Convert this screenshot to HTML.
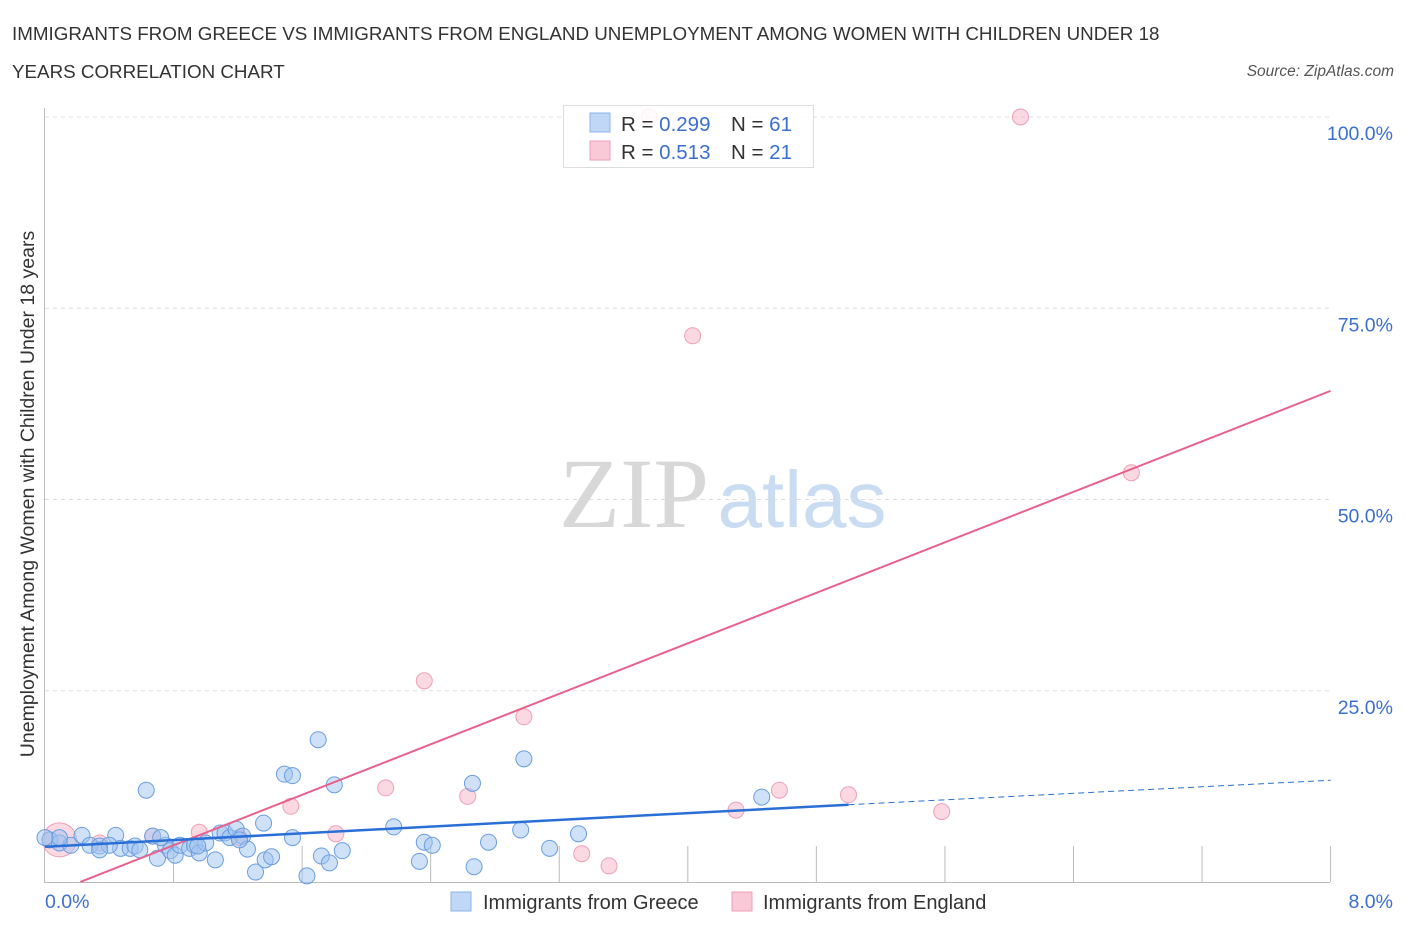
<!DOCTYPE html>
<html><head><meta charset="utf-8"><style>
body{margin:0;background:#fff;font-family:"Liberation Sans",sans-serif;}
</style></head><body>
<svg id="chart" width="1406" height="930" viewBox="0 0 1406 930" font-family="Liberation Sans, sans-serif">
<text x="12" y="40" font-size="18.8" fill="#333">IMMIGRANTS FROM GREECE VS IMMIGRANTS FROM ENGLAND UNEMPLOYMENT AMONG WOMEN WITH CHILDREN UNDER 18</text>
<text x="12" y="78" font-size="18.8" fill="#333">YEARS CORRELATION CHART</text>
<text x="1394" y="76" font-size="15.5" fill="#555" font-style="italic" text-anchor="end">Source: ZipAtlas.com</text>
<text x="634" y="527" font-size="100" fill="#d8d8d8" style="font-family:'Liberation Serif',serif" text-anchor="middle">ZIP</text>
<text x="802" y="527" font-size="80" fill="#c9dcf2" text-anchor="middle">atlas</text>
<text transform="translate(34,494) rotate(-90)" font-size="19.5" fill="#333" text-anchor="middle">Unemployment Among Women with Children Under 18 years</text>
<g id="grid"></g><g id="marks"></g>
<g>
<rect x="563.5" y="105.5" width="250" height="62" fill="rgba(255,255,255,0.85)" stroke="#ddd"/>
<rect x="590" y="113" width="20" height="19" fill="#c0d7f5" stroke="#8ab4ea"/>
<rect x="590" y="141" width="20" height="19" fill="#fac9d8" stroke="#ef9fb8"/>
<text x="621" y="131" font-size="20.5" fill="#333">R = <tspan fill="#3b6fd0">0.299</tspan></text>
<text x="731" y="131" font-size="20.5" fill="#333">N = <tspan fill="#3b6fd0">61</tspan></text>
<text x="621" y="159" font-size="20.5" fill="#333">R = <tspan fill="#3b6fd0"> 0.513</tspan></text>
<text x="731" y="159" font-size="20.5" fill="#333">N = <tspan fill="#3b6fd0">21</tspan></text>
</g>
<rect x="451" y="892" width="20" height="19" fill="#c0d7f5" stroke="#8ab4ea"/>
<text x="483" y="909" font-size="20" fill="#333">Immigrants from Greece</text>
<rect x="732" y="892" width="20" height="19" fill="#fac9d8" stroke="#ef9fb8"/>
<text x="763" y="909" font-size="20" fill="#333">Immigrants from England</text>
</svg>
<script>
const greeceX=[0.03,0.09,0.16,0.23,0.28,0.34,0.44,0.47,0.53,0.56,0.59,0.63,0.67,0.70,0.75,0.78,0.81,0.84,0.90,0.93,0.96,1.00,1.06,1.09,1.12,1.15,1.19,1.23,1.26,1.31,1.36,1.37,1.41,1.49,1.54,1.54,1.63,1.70,1.72,1.77,1.80,1.85,2.17,2.33,2.36,2.41,2.66,2.67,2.76,2.96,2.98,3.14,3.32,4.46,0.09,0.40,0.72,0.95,1.21,0.0,0.34];
const greeceY=[5.5,5.1,4.8,6.1,4.8,4.7,6.1,4.4,4.4,4.7,4.2,12.0,6.0,3.1,4.8,4.1,3.5,4.8,4.4,4.8,3.8,5.1,2.9,6.4,6.4,5.8,6.9,6.0,4.3,1.3,7.7,2.9,3.3,14.1,13.9,5.8,0.8,18.6,3.4,2.5,12.7,4.1,7.2,2.7,5.2,4.8,12.9,2.0,5.2,6.8,16.1,4.4,6.3,11.1,5.8,4.8,5.8,4.7,5.5,5.8,4.2];
const englandX=[0.09,0.67,0.96,1.21,1.53,1.81,2.12,2.36,2.63,2.98,3.34,3.51,3.76,4.03,4.30,4.57,5.00,5.58,6.07,6.76,0.34];
const englandY=[5.5,6.0,6.5,5.8,9.9,6.3,12.3,26.3,11.2,21.6,3.7,2.1,100,71.4,9.4,12.0,11.4,9.2,100,53.5,5.1];
const yTicks=[25,50,75,100];
const yTickLabels=["25.0%","50.0%","75.0%","100.0%"];
const xTicks=[0.8,1.6,2.4,3.2,4.0,4.8,5.6,6.4,7.2,8.0];
const greeceTrend=[4.6,10.1,13.3]; // at x=0, 5.0, 8.0
const englandTrend=[-1.8,64.2]; // at x=0, 8
const X=v=>45+v*160.7, Y=v=>882-v*7.65;
const NS="http://www.w3.org/2000/svg";
function mk(tag,attrs,parent){const e=document.createElementNS(NS,tag);for(const k in attrs)e.setAttribute(k,attrs[k]);parent.appendChild(e);return e;}
const grid=document.getElementById('grid'), marks=document.getElementById('marks');
yTicks.forEach((t,i)=>{
 let l=mk('line',{x1:45,x2:1330,y1:Y(t),y2:Y(t),stroke:'#ddd','stroke-dasharray':'4,4'},grid);
 
 
 let tx=mk('text',{x:1393,y:Y(t)+23,'font-size':19.5,fill:'#3b6fd0','text-anchor':'end'},grid);
 tx.textContent=yTickLabels[i];
 
 
});
let ax=mk('line',{x1:44,x2:1330,y1:882.5,y2:882.5,stroke:'#bbb'},grid);


let ay=mk('line',{x1:44.5,x2:44.5,y1:108,y2:882,stroke:'#bbb'},grid);


xTicks.forEach(t=>{
 let l=mk('line',{x1:X(t),x2:X(t),y1:846,y2:882,stroke:'#bbb'},grid);
 
 
});
let x0=mk('text',{x:45,y:908,'font-size':19.5,fill:'#3b6fd0'},grid);x0.textContent='0.0%';


let x8=mk('text',{x:1393,y:908,'font-size':19.5,fill:'#3b6fd0','text-anchor':'end'},grid);x8.textContent='8.0%';


englandX.forEach((x,i)=>{
 let c=mk('circle',{cx:X(x),cy:Y(englandY[i]),r:i===0?17:8,fill:'rgba(248,180,200,0.5)',stroke:'#ef9fb8','stroke-width':1},marks);
 
 
});
greeceX.forEach((x,i)=>{
 let c=mk('circle',{cx:X(x),cy:Y(greeceY[i]),r:8,fill:'rgba(160,196,240,0.5)',stroke:'#6a9ee0','stroke-width':1},marks);
 
 
});
let et=mk('line',{x1:X(0.22),y1:Y(englandTrend[0]+(englandTrend[1]-englandTrend[0])*0.22/8),x2:X(8),y2:Y(englandTrend[1]),stroke:'#e8608c','stroke-width':2},marks);


let gt=mk('line',{x1:X(0),y1:Y(greeceTrend[0]),x2:X(5),y2:Y(greeceTrend[1]),stroke:'#2a6fd6','stroke-width':2.5},marks);


let gd=mk('line',{x1:X(5),y1:Y(greeceTrend[1]),x2:X(8),y2:Y(greeceTrend[2]),stroke:'#2a6fd6','stroke-width':1,'stroke-dasharray':'6,4'},marks);


</script>
</body></html>
